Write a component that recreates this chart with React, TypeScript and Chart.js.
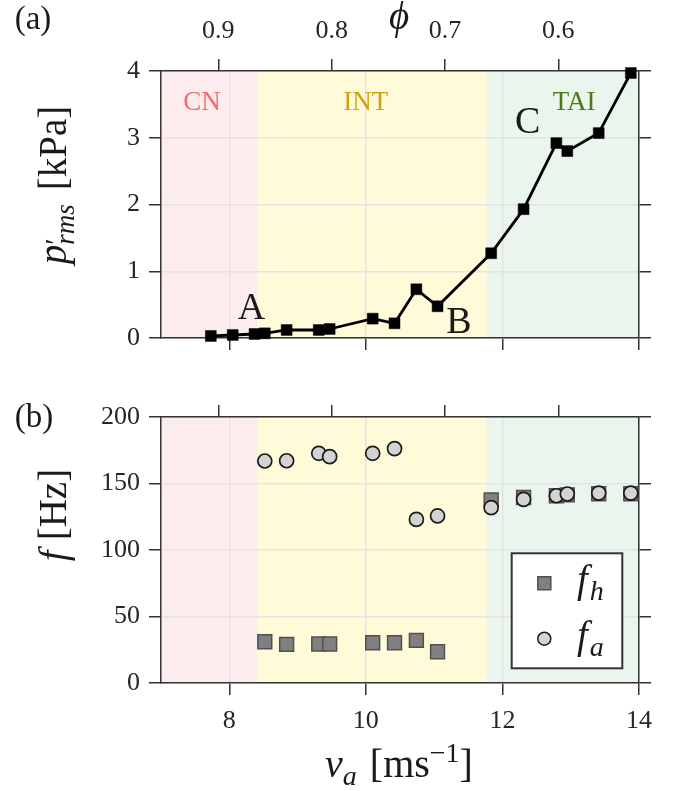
import React, { useEffect, useRef } from 'react';
import { Chart, registerables } from 'chart.js';

Chart.register(...registerables);

// ---------- data ----------
const VA = [7.73, 8.05, 8.37, 8.52, 8.84, 9.31, 9.47, 10.1, 10.42, 10.74, 11.05, 11.835, 12.31, 12.79, 12.95, 13.41, 13.88];
const P_RMS = [0.03, 0.045, 0.06, 0.07, 0.12, 0.12, 0.135, 0.29, 0.22, 0.73, 0.475, 1.27, 1.93, 2.92, 2.8, 3.07, 3.97];

const F_VA = [8.52, 8.84, 9.31, 9.47, 10.1, 10.42, 10.74, 11.05, 11.835, 12.31, 12.79, 12.95, 13.41, 13.88];
const F_H = [31, 29, 29.3, 29.3, 30.3, 30.3, 32, 23.5, 137.7, 139.5, 140.8, 141.5, 142.3, 142.3];
const F_A = [166.9, 167.1, 172.7, 170.2, 172.7, 176.2, 123, 125.6, 131.8, 138.1, 140.8, 142.1, 142.8, 142.8];

const X_RANGE = [7, 14];
const X_TICKS = [8, 10, 12, 14];
const PHI_TICKS = [0.9, 0.8, 0.7, 0.6];
const PHI_LIMITS = [0.9506, 0.5288]; // phi at va = 7 and va = 14
const P_RANGE = [0, 4];
const P_TICKS = [0, 1, 2, 3, 4];
const F_RANGE = [0, 200];
const F_TICKS = [0, 50, 100, 150, 200];

const REGION_NAMES = ['CN', 'INT', 'TAI'];
const REGION_EDGES = [7, 8.415, 11.77, 14];
const REGION_LABEL_X = [7.6, 10.0, 13.05];
const REGION_LABEL_Y = 3.55;

const ANNOT_TEXT = ['A', 'B', 'C'];
const ANNOT_X = [8.324, 11.363, 12.371];
const ANNOT_Y = [0.476, 0.273, 3.26];

// ---------- style ----------
const SERIF = '"Liberation Serif", "DejaVu Serif", serif';
const REGION_BG = ['#fdeced', '#fffbd9', '#e9f5ed'];
const REGION_FG = ['#ef6d6f', '#d2a20e', '#4a7b12'];
const SPINE = '#333333';
const GRID = '#e3e3e3';
const TEXT = '#1a1a1a';
const TICK_TEXT = '#262626';

type Seg = { t: string; size: number; italic?: boolean; dy?: number; noAdvance?: boolean; gap?: number };

function drawRich(ctx: CanvasRenderingContext2D, segs: Seg[], x: number, y: number, rotate = false) {
  ctx.save();
  ctx.translate(x, y);
  if (rotate) ctx.rotate(-Math.PI / 2);
  ctx.fillStyle = TEXT;
  ctx.textBaseline = 'alphabetic';
  ctx.textAlign = 'left';
  const widths = segs.map((s) => {
    ctx.font = `${s.italic ? 'italic ' : ''}${s.size}px ${SERIF}`;
    return s.noAdvance ? 0 : ctx.measureText(s.t).width + (s.gap || 0);
  });
  const total = widths.reduce((a, b) => a + b, 0);
  let cur = -total / 2;
  segs.forEach((s, i) => {
    ctx.font = `${s.italic ? 'italic ' : ''}${s.size}px ${SERIF}`;
    ctx.fillText(s.t, cur, s.dy || 0);
    cur += widths[i];
  });
  ctx.restore();
}

const tickStyle = {
  color: GRID,
  lineWidth: 1.5,
  tickColor: SPINE,
  tickWidth: 1.5,
  tickLength: 12,
  drawTicks: true,
};
const borderStyle = { color: SPINE, width: 1.5 };
const tickFont = { family: SERIF, size: 26 };

function setTicks(list: number[]) {
  return (s: any) => {
    s.ticks = list.map((v) => ({ value: v }));
  };
}

function xAxis(showLabels: boolean, height: number) {
  return {
    type: 'linear',
    position: 'bottom',
    min: X_RANGE[0],
    max: X_RANGE[1],
    afterBuildTicks: setTicks(X_TICKS),
    ticks: { display: showLabels, font: tickFont, color: TICK_TEXT, padding: 11, maxRotation: 0, callback: (v: number) => String(v) },
    grid: { ...tickStyle },
    border: borderStyle,
    afterFit: (s: any) => {
      s.height = height;
    },
  };
}

function phiAxis(showLabels: boolean, height: number) {
  return {
    type: 'linear',
    position: 'top',
    min: PHI_LIMITS[1],
    max: PHI_LIMITS[0],
    reverse: true,
    afterBuildTicks: setTicks(PHI_TICKS),
    ticks: { display: showLabels, font: tickFont, color: TICK_TEXT, padding: 12, maxRotation: 0, callback: (v: number) => v.toFixed(1) },
    grid: { ...tickStyle, drawOnChartArea: false },
    border: borderStyle,
    afterFit: (s: any) => {
      s.height = height;
    },
  };
}

function yAxis(range: number[], ticks: number[], width: number) {
  return {
    type: 'linear',
    position: 'left',
    min: range[0],
    max: range[1],
    afterBuildTicks: setTicks(ticks),
    ticks: { font: tickFont, color: TICK_TEXT, padding: 9, callback: (v: number) => String(v) },
    grid: { ...tickStyle },
    border: borderStyle,
    afterFit: (s: any) => {
      s.width = width;
    },
  };
}

function yRight(range: number[], ticks: number[], width: number) {
  return {
    type: 'linear',
    position: 'right',
    min: range[0],
    max: range[1],
    afterBuildTicks: setTicks(ticks),
    ticks: { display: false },
    grid: { ...tickStyle, drawOnChartArea: false },
    border: borderStyle,
    afterFit: (s: any) => {
      s.width = width;
    },
  };
}

const regionBgPlugin = {
  id: 'regionBg',
  beforeDraw(chart: any) {
    const { ctx, chartArea, scales } = chart;
    const x = scales.x;
    ctx.save();
    for (let i = 0; i < REGION_NAMES.length; i++) {
      const a = x.getPixelForValue(REGION_EDGES[i]);
      const b = x.getPixelForValue(REGION_EDGES[i + 1]);
      ctx.fillStyle = REGION_BG[i];
      ctx.fillRect(a, chartArea.top, b - a, chartArea.bottom - chartArea.top);
    }
    ctx.restore();
  },
};

const TOP_H = 372;
const BOTTOM_H = 791 - TOP_H;

export default function App() {
  const topRef = useRef<HTMLCanvasElement>(null);
  const botRef = useRef<HTMLCanvasElement>(null);

  useEffect(() => {
    const topPlugin = {
      id: 'topDecor',
      afterDraw(chart: any) {
        const { ctx, scales } = chart;
        const x = scales.x;
        const y = scales.y;
        ctx.save();
        // region labels
        ctx.textAlign = 'center';
        ctx.textBaseline = 'alphabetic';
        ctx.font = `27px ${SERIF}`;
        for (let i = 0; i < REGION_NAMES.length; i++) {
          ctx.fillStyle = REGION_FG[i];
          ctx.fillText(REGION_NAMES[i], x.getPixelForValue(REGION_LABEL_X[i]), y.getPixelForValue(REGION_LABEL_Y) + 9);
        }
        // annotations
        ctx.fillStyle = TEXT;
        ctx.font = `38px ${SERIF}`;
        for (let i = 0; i < ANNOT_TEXT.length; i++) {
          ctx.fillText(ANNOT_TEXT[i], x.getPixelForValue(ANNOT_X[i]), y.getPixelForValue(ANNOT_Y[i]) + 13);
        }
        // panel label
        ctx.textAlign = 'center';
        ctx.font = `33px ${SERIF}`;
        ctx.fillText('(a)', 33, 29);
        ctx.restore();
        // axis titles
        drawRich(ctx, [{ t: 'ϕ', size: 39, italic: true }], 399, 29);
        drawRich(
          ctx,
          [
            { t: 'p', size: 39, italic: true },
            { t: '′', size: 30, dy: -1, noAdvance: true },
            { t: 'rms', size: 27, italic: true, dy: 8, gap: 14 },
            { t: '[kPa]', size: 39 },
          ],
          66,
          185,
          true
        );
      },
    };

    const botPlugin = {
      id: 'botDecor',
      afterDraw(chart: any) {
        const { ctx, chartArea } = chart;
        ctx.save();
        // legend
        const bw = 110.6;
        const bh = 115;
        const bx = chartArea.right - 16.7 - bw;
        const by = chartArea.bottom - 14.7 - bh;
        ctx.fillStyle = '#ffffff';
        ctx.fillRect(bx, by, bw, bh);
        ctx.strokeStyle = SPINE;
        ctx.lineWidth = 2;
        ctx.strokeRect(bx, by, bw, bh);
        const mx = bx + 32.6;
        const r1 = by + 30;
        const r2 = by + 85.4;
        ctx.fillStyle = '#808080';
        ctx.strokeStyle = '#505050';
        ctx.lineWidth = 1.5;
        ctx.beginPath();
        ctx.rect(mx - 6.5, r1 - 6.5, 13, 13);
        ctx.fill();
        ctx.stroke();
        ctx.fillStyle = '#d3d3d3';
        ctx.strokeStyle = '#1a1a1a';
        ctx.beginPath();
        ctx.arc(mx, r2, 6.5, 0, Math.PI * 2);
        ctx.fill();
        ctx.stroke();
        ctx.restore();
        const tx = bx + 65.3;
        ctx.save();
        ctx.fillStyle = TEXT;
        ctx.textAlign = 'left';
        ctx.textBaseline = 'alphabetic';
        ctx.font = `italic 39px ${SERIF}`;
        ctx.fillText('f', tx, r1 + 9);
        ctx.fillText('f', tx, r2 + 9);
        const fw = ctx.measureText('f').width;
        ctx.font = `italic 28px ${SERIF}`;
        ctx.fillText('h', tx + fw + 2, r1 + 17);
        ctx.fillText('a', tx + fw + 2, r2 + 17);
        // panel label
        ctx.textAlign = 'center';
        ctx.font = `33px ${SERIF}`;
        ctx.fillText('(b)', 34, 55);
        ctx.restore();
        // axis titles
        drawRich(
          ctx,
          [
            { t: 'f', size: 39, italic: true, gap: 10 },
            { t: '[Hz]', size: 39 },
          ],
          66,
          143,
          true
        );
        drawRich(
          ctx,
          [
            { t: 'v', size: 40, italic: true },
            { t: 'a', size: 28, italic: true, dy: 8, gap: 13 },
            { t: '[ms', size: 40 },
            { t: '−1', size: 28, dy: -15 },
            { t: ']', size: 40 },
          ],
          399,
          405
        );
      },
    };

    const topChart = new Chart(topRef.current!, {
      type: 'line',
      data: {
        datasets: [
          {
            label: "p'rms",
            data: VA.map((v, i) => ({ x: v, y: P_RMS[i] })),
            borderColor: '#000000',
            borderWidth: 2.8,
            backgroundColor: '#000000',
            pointStyle: 'rect',
            pointRadius: 7.7,
            pointBorderWidth: 0.5,
            pointBackgroundColor: '#000000',
            pointBorderColor: '#000000',
            tension: 0,
            clip: false,
          } as any,
        ],
      },
      options: {
        responsive: false,
        animation: false,
        layout: { padding: 0 },
        plugins: { legend: { display: false }, tooltip: { enabled: false }, title: { display: false } },
        scales: {
          x: xAxis(false, TOP_H - 338),
          phi: phiAxis(true, 71),
          y: yAxis(P_RANGE, P_TICKS, 161),
          y2: yRight(P_RANGE, P_TICKS, 43),
        } as any,
      },
      plugins: [regionBgPlugin, topPlugin],
    });

    const botChart = new Chart(botRef.current!, {
      type: 'scatter',
      data: {
        datasets: [
          {
            label: 'fa',
            data: F_VA.map((v, i) => ({ x: v, y: F_A[i] })),
            pointStyle: 'circle',
            pointRadius: 7,
            pointBorderWidth: 1.7,
            pointBackgroundColor: '#d3d3d3',
            pointBorderColor: '#1a1a1a',
            clip: false,
          } as any,
          {
            label: 'fh',
            data: F_VA.map((v, i) => ({ x: v, y: F_H[i] })),
            pointStyle: 'rect',
            pointRadius: 9.8,
            pointBorderWidth: 1.5,
            pointBackgroundColor: '#808080',
            pointBorderColor: '#505050',
            clip: false,
          } as any,
        ],
      },
      options: {
        responsive: false,
        animation: false,
        layout: { padding: 0 },
        plugins: { legend: { display: false }, tooltip: { enabled: false }, title: { display: false } },
        scales: {
          x: xAxis(true, BOTTOM_H - (683 - TOP_H)),
          phi: phiAxis(false, 417 - TOP_H),
          y: yAxis(F_RANGE, F_TICKS, 161),
          y2: yRight(F_RANGE, F_TICKS, 43),
        } as any,
      },
      plugins: [regionBgPlugin, botPlugin],
    });

    return () => {
      topChart.destroy();
      botChart.destroy();
    };
  }, []);

  return (
    <div style={{ position: 'absolute', left: 0, top: 0, width: 682, height: 791, background: '#ffffff' }}>
      <canvas ref={topRef} width={682} height={TOP_H} style={{ position: 'absolute', left: 0, top: 0, display: 'block' }} />
      <canvas ref={botRef} width={682} height={BOTTOM_H} style={{ position: 'absolute', left: 0, top: TOP_H, display: 'block' }} />
    </div>
  );
}
